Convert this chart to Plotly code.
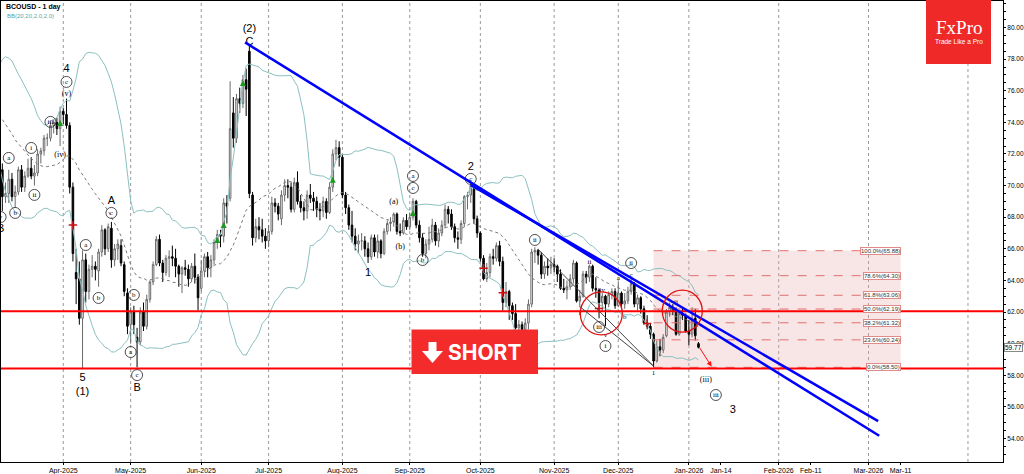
import pandas as pd
import plotly.graph_objects as go

# ------------------------------------------------------------------ data
TITLE = "BCOUSD - 1 day"
BB_NAME = "BB(20,20,2.0,2.0)"
BB_PERIOD, BB_DEV = 20, 2.0

# closes of the 20 sessions before the first visible bar (feed the BB(20))
pre_closes = [76.20, 75.60, 75.30, 75.70, 76.40, 77.00, 76.00, 75.60, 75.20, 75.00,
              74.90, 75.00, 75.20, 74.00, 74.20, 73.00, 72.50, 73.60, 73.00, 71.60]

first_session, last_session = "2025-03-04", "2026-01-07"
holidays = ["2025-04-18", "2025-12-25", "2026-01-01"]

# daily bars (open, high, low, close) per month
mar_2025 = [(71.6, 71.9, 69.8, 71.0), (71.0, 71.4, 68.4, 69.3), (69.3, 70.2, 68.9, 69.5), (69.5, 71.0, 68.9, 70.4),
            (70.4, 70.8, 69.0, 69.3), (69.3, 70.0, 68.6, 69.6), (69.6, 71.2, 69.4, 71.0), (71.0, 71.3, 69.6, 69.9),
            (69.9, 70.9, 69.6, 70.6), (70.6, 71.7, 70.5, 71.1), (71.1, 71.8, 70.4, 70.6), (70.6, 71.3, 70.0, 70.8),
            (70.8, 72.3, 70.6, 72.0), (72.0, 72.4, 71.4, 72.2), (72.2, 73.2, 71.9, 73.0), (73.0, 73.3, 72.5, 73.0),
            (73.0, 74.0, 72.8, 73.8), (73.8, 74.2, 73.3, 74.0), (74.0, 74.3, 73.2, 73.6), (73.6, 75.0, 72.5, 74.7)]
apr_2025 = [(74.7, 74.9, 73.9, 74.5), (74.5, 75.5, 73.6, 73.8), (73.8, 74.0, 69.5, 69.9), (69.9, 70.2, 65.2, 65.7),
            (64.5, 66.0, 62.5, 64.1), (64.1, 65.2, 61.2, 61.6), (61.6, 65.9, 58.4, 65.3), (65.3, 65.7, 62.6, 63.3),
            (63.3, 65.0, 62.8, 64.7), (64.7, 65.6, 64.2, 64.9), (64.9, 65.2, 64.0, 64.7), (64.6, 66.0, 63.6, 65.8),
            (65.8, 67.5, 65.5, 67.2), (67.2, 67.3, 65.6, 66.0), (66.0, 67.6, 65.8, 67.4), (67.3, 67.7, 64.8, 65.3),
            (65.3, 66.3, 64.9, 66.0), (66.0, 66.6, 65.3, 66.3), (66.2, 66.6, 64.9, 65.1), (65.0, 65.2, 63.0, 63.3),
            (63.2, 63.5, 60.6, 61.1)]
may_2025 = [(61.2, 62.3, 60.0, 62.0), (62.0, 62.4, 60.6, 61.2), (60.4, 61.0, 58.5, 60.1), (60.1, 62.3, 59.9, 62.0),
            (62.0, 62.6, 60.8, 61.1), (61.1, 63.1, 60.9, 62.8), (62.8, 64.0, 62.6, 63.9), (63.9, 65.2, 63.7, 65.0),
            (65.0, 66.8, 64.9, 66.6), (66.6, 66.9, 64.9, 65.1), (65.1, 65.3, 63.9, 64.5), (64.5, 65.6, 64.3, 65.4),
            (65.4, 65.9, 64.2, 65.5), (65.5, 66.2, 64.9, 65.4), (65.4, 66.0, 64.2, 64.9), (64.9, 65.0, 63.6, 64.4),
            (64.4, 64.9, 63.2, 64.8), (64.8, 65.3, 64.3, 64.7), (64.7, 65.0, 63.6, 64.1), (64.1, 65.1, 63.9, 64.9),
            (64.9, 65.7, 63.8, 64.2), (64.2, 64.4, 62.1, 62.9)]
jun_2025 = [(63.5, 65.3, 63.3, 64.6), (64.6, 65.7, 64.2, 65.5), (65.5, 65.8, 64.2, 64.8), (64.8, 65.6, 64.2, 65.3),
            (65.3, 66.6, 65.0, 66.4), (66.4, 67.2, 66.0, 66.9), (66.9, 67.2, 66.1, 66.8), (66.8, 69.2, 66.4, 68.9),
            (68.9, 69.4, 67.6, 68.7), (69.2, 76.6, 69.0, 73.6), (74.6, 75.6, 72.4, 73.0), (73.0, 75.8, 72.7, 75.5),
            (75.5, 76.2, 74.6, 75.2), (75.2, 77.0, 74.9, 76.7), (76.7, 77.4, 74.4, 76.1), (78.5, 78.9, 69.2, 69.5),
            (69.4, 69.6, 66.2, 66.7), (66.7, 67.9, 66.4, 67.4), (67.4, 68.0, 66.6, 67.2), (67.2, 67.9, 66.4, 66.8),
            (66.8, 67.3, 66.0, 66.5)]
jul_2025 = [(66.5, 67.5, 66.1, 67.1), (67.1, 69.3, 66.9, 68.9), (68.9, 69.2, 68.3, 68.7), (68.7, 68.9, 67.8, 68.2),
            (67.9, 69.7, 67.5, 69.4), (69.4, 70.4, 69.0, 70.0), (70.0, 70.4, 69.2, 69.9), (69.9, 70.2, 68.3, 68.5),
            (68.5, 70.5, 68.3, 70.2), (70.2, 70.9, 68.8, 69.0), (69.0, 69.4, 68.3, 68.6), (68.6, 69.0, 67.8, 68.4),
            (68.4, 69.7, 67.9, 69.4), (69.4, 70.1, 68.9, 69.2), (69.2, 69.6, 68.4, 69.0), (69.0, 69.3, 68.0, 68.5),
            (68.5, 68.9, 67.8, 68.4), (68.4, 69.3, 68.0, 69.0), (69.0, 69.2, 67.9, 68.3), (68.3, 70.2, 68.2, 69.9),
            (69.9, 72.3, 69.6, 72.0), (72.0, 72.9, 71.6, 72.4), (72.4, 72.8, 71.2, 71.8)]
aug_2025 = [(71.8, 72.0, 69.2, 69.4), (69.4, 69.6, 68.2, 68.6), (68.6, 68.8, 67.2, 67.5), (67.5, 68.4, 66.4, 66.8),
            (66.8, 67.3, 65.9, 66.3), (66.3, 66.9, 65.7, 66.5), (66.5, 67.0, 65.9, 66.5), (66.5, 66.8, 65.5, 66.0),
            (66.0, 66.4, 65.1, 65.5), (65.5, 66.9, 65.3, 66.7), (66.7, 66.9, 65.5, 65.8), (65.8, 66.9, 65.4, 66.5),
            (66.5, 66.6, 65.4, 65.7), (65.7, 67.3, 65.6, 67.1), (67.1, 67.8, 66.9, 67.6), (67.6, 68.0, 67.1, 67.7),
            (67.7, 68.3, 67.4, 68.2), (68.2, 68.3, 66.9, 67.1), (67.1, 67.6, 66.8, 67.0), (67.0, 68.0, 66.9, 67.8),
            (67.8, 68.2, 67.2, 67.4)]
sep_2025 = [(67.4, 68.3, 67.2, 68.0), (68.0, 69.2, 67.8, 69.0), (69.0, 69.1, 67.3, 67.5), (67.5, 67.8, 66.4, 66.7),
            (66.7, 67.0, 65.5, 65.7), (65.7, 66.6, 65.4, 66.3), (66.3, 67.4, 65.9, 66.6), (66.6, 67.9, 66.4, 67.5),
            (67.5, 67.7, 66.2, 66.5), (66.5, 67.3, 66.1, 67.0), (67.0, 67.8, 66.8, 67.5), (67.5, 68.8, 67.3, 68.5),
            (68.5, 68.7, 67.6, 68.2), (68.2, 68.5, 67.2, 67.4), (67.4, 67.6, 66.4, 66.7), (66.7, 67.1, 66.0, 66.6),
            (66.6, 67.8, 66.3, 67.6), (67.6, 69.4, 67.4, 69.3), (69.3, 69.6, 68.5, 69.4), (69.4, 70.3, 68.9, 70.0),
            (69.8, 69.9, 67.6, 67.9), (67.9, 68.1, 66.7, 67.0)]
oct_2025 = [(67.0, 67.1, 65.2, 65.4), (65.4, 65.6, 64.0, 64.1), (64.1, 65.1, 63.9, 64.5), (64.5, 65.7, 64.2, 65.5),
            (65.5, 66.0, 65.0, 65.4), (65.4, 66.4, 65.2, 66.2), (66.2, 66.5, 64.9, 65.2), (65.2, 65.5, 62.1, 62.6),
            (62.6, 63.9, 62.3, 63.3), (63.3, 63.4, 61.5, 62.4), (62.4, 62.6, 61.5, 61.9), (61.9, 62.5, 60.9, 61.0),
            (61.0, 61.5, 60.2, 61.2), (61.2, 61.4, 60.0, 60.9), (60.9, 61.6, 60.3, 61.3), (61.3, 62.8, 60.9, 62.5),
            (62.5, 66.0, 62.3, 65.8), (65.8, 66.1, 65.1, 65.9), (65.9, 66.0, 65.0, 65.6), (65.6, 65.8, 64.1, 64.4),
            (64.4, 65.2, 64.1, 64.9), (64.9, 65.4, 64.3, 64.8), (64.8, 65.5, 64.4, 65.0)]
nov_2025 = [(65.0, 65.4, 64.5, 64.9), (64.9, 65.0, 63.9, 64.4), (64.4, 64.7, 63.4, 63.5), (63.5, 64.1, 63.2, 63.4),
            (63.4, 64.0, 62.8, 63.6), (63.6, 64.4, 63.4, 64.1), (64.1, 65.3, 63.8, 65.1), (65.1, 65.2, 62.6, 62.7),
            (62.7, 63.4, 62.3, 63.0), (63.0, 64.6, 62.9, 64.4), (64.4, 64.6, 63.8, 64.2), (64.2, 65.0, 63.9, 64.9),
            (64.9, 65.0, 63.3, 63.5), (63.5, 64.2, 62.9, 63.4), (63.4, 63.5, 61.6, 62.6), (62.6, 63.2, 62.0, 63.0),
            (63.0, 63.1, 61.1, 62.5), (62.5, 63.3, 62.3, 63.1), (63.1, 63.5, 62.8, 63.3), (63.3, 63.5, 62.2, 62.4)]
dec_2025 = [(62.4, 63.9, 62.3, 63.2), (63.2, 63.3, 62.2, 62.5), (62.5, 63.2, 62.2, 62.7), (62.7, 63.6, 62.5, 63.3),
            (63.3, 64.1, 63.1, 63.8), (63.8, 63.9, 62.3, 62.5), (62.5, 63.1, 62.1, 62.9), (62.9, 63.0, 61.9, 62.2),
            (62.2, 62.4, 61.2, 61.3), (61.3, 61.8, 60.9, 61.1), (61.1, 61.3, 60.3, 60.6), (60.6, 60.7, 58.5, 58.9),
            (58.9, 60.2, 58.8, 59.8), (59.8, 60.3, 59.2, 59.6), (59.6, 60.6, 59.4, 60.4), (60.5, 62.2, 60.4, 62.0),
            (62.0, 62.6, 61.7, 62.3), (62.3, 62.5, 61.8, 62.1), (62.1, 62.3, 60.5, 60.6), (60.6, 62.1, 60.5, 61.9),
            (61.9, 62.2, 61.5, 61.8), (61.8, 61.9, 60.7, 60.8)]
jan_2026 = [(60.8, 61.5, 59.9, 60.6), (60.6, 62.3, 60.4, 61.6), (61.6, 62.2, 60.2, 60.5), (60.0, 60.1, 59.7, 59.77)]

months = [mar_2025, apr_2025, may_2025, jun_2025, jul_2025, aug_2025,
          sep_2025, oct_2025, nov_2025, dec_2025, jan_2026]

# axis labels
tick_dates = ["2025-04-01", "2025-05-01", "2025-06-02", "2025-07-01", "2025-08-01", "2025-09-01",
              "2025-10-01", "2025-11-03", "2025-12-01", "2026-01-02", "2026-01-14", "2026-02-01",
              "2026-02-11", "2026-03-01", "2026-03-11"]
tick_labels = ["Apr-2025", "May-2025", "Jun-2025", "Jul-2025", "Aug-2025", "Sep-2025",
               "Oct-2025", "Nov-2025", "Dec-2025", "Jan-2026", "Jan-14", "Feb-2026",
               "Feb-11", "Mar-2026", "Mar-11"]
grid_dates = ["2025-04-01", "2025-05-01", "2025-06-02", "2025-07-01", "2025-08-01", "2025-09-01",
              "2025-10-01", "2025-11-03", "2025-12-01", "2026-01-02", "2026-02-01", "2026-03-01",
              "2026-04-01"]
price_ticks = [54, 56, 58, 60, 62, 64, 66, 68, 70, 72, 74, 76, 78, 80]
x_window = ["2025-03-05 02:00", "2026-04-12 10:00"]
y_window = [52.51, 81.68]

last_price = 59.77
support_resistance = [62.05, 58.43]

fib_pct = [100.0, 78.6, 61.8, 50.0, 38.2, 23.6, 0.0]
fib_val = [65.88, 64.30, 63.06, 62.19, 61.32, 60.24, 58.50]
fib_from, fib_to = "2025-12-16 12:00", "2026-03-11 12:00"

# trend lines (start date, start price, end date, end price)
trend_lines = [("2025-06-20 04:00", 79.06, "2026-03-04 20:00", 54.17),
               ("2025-09-26 12:00", 70.04, "2026-03-04 12:00", 55.10)]
channel_lines = [("2025-10-27 12:00", 65.97, "2025-12-16 12:00", 58.58),
                 ("2025-11-13 12:00", 62.34, "2025-12-16 12:00", 58.58)]
focus_circles = [("2025-11-13 15:36", 63.27, "2025-12-02 17:45", 60.55),
                 ("2025-12-19 05:00", 63.39, "2026-01-08 16:30", 60.73)]
arrow_from = ("2026-01-07 12:00", 59.85)
arrow_to = ("2026-01-11 14:00", 58.55)

# Elliott wave labels
big_text = ["B", "4", "5", "(1)", "A", "B", "(2)", "C", "1", "2", "3"]
big_x = ["2025-03-04 23:00", "2025-04-02", "2025-04-09", "2025-04-09", "2025-04-23", "2025-05-05",
         "2025-06-23", "2025-06-23", "2025-08-13", "2025-09-26", "2026-01-18 05:00"]
big_y = [67.25, 77.38, 57.82, 56.94, 69.03, 57.19, 79.91, 79.09, 64.47, 71.18, 55.80]

circ_text = ["v", "a", "b", "i", "ii", "iii", "c", "a", "b", "c", "b", "a", "c",
             "a", "c", "b", "c", "ii", "iii", "i", "ii", "iii"]
circ_x = ["2025-03-04 23:00", "2025-03-07", "2025-03-11", "2025-03-18", "2025-03-19", "2025-03-26",
          "2025-04-02", "2025-04-10", "2025-04-16", "2025-04-23", "2025-05-02", "2025-05-01",
          "2025-05-05", "2025-09-02", "2025-09-02", "2025-09-05", "2025-09-26", "2025-10-24",
          "2025-11-21", "2025-11-25", "2025-12-05", "2026-01-12 22:00"]
circ_y = [68.01, 71.75, 68.27, 72.38, 69.41, 74.03, 76.56, 66.24, 62.89, 68.27, 63.08, 59.47,
          58.01, 70.61, 69.85, 65.29, 70.42, 66.56, 61.05, 59.85, 65.10, 56.75]

paren_text = ["(iv)", "(v)", "(a)", "(b)", "(iii)"]
paren_x = ["2025-03-31", "2025-04-02", "2025-08-25", "2025-08-27", "2026-01-09 19:00"]
paren_y = [71.94, 75.80, 68.96, 66.11, 57.70]

small_text = ["ii", "iv", "i", "v", "a", "b", "c", "1", "ii"]
small_x = ["2025-11-18", "2025-11-24", "2025-11-13", "2025-11-25", "2025-12-01", "2025-12-03",
           "2025-12-05", "2025-12-16", "2025-12-26"]
small_y = [65.16, 63.39, 61.94, 60.54, 64.15, 61.68, 64.34, 58.14, 62.63]

up_sig_x = ["2025-03-31", "2025-06-09", "2025-06-11", "2025-06-19", "2025-07-29", "2025-09-02"]
up_sig_y = [74.15, 66.75, 67.70, 76.68, 70.56, 68.46]
dn_sig_x = ["2025-04-04", "2025-10-02", "2025-10-10", "2025-11-21", "2025-12-12"]
dn_sig_y = [67.50, 64.77, 63.22, 62.23, 61.28]

# ------------------------------------------------------------------ build
bars = [b for m in months for b in m]
opens = [b[0] for b in bars]
highs = [b[1] for b in bars]
lows = [b[2] for b in bars]
closes = [b[3] for b in bars]

sessions = pd.bdate_range(first_session, last_session)
sessions = sessions[~sessions.isin(pd.to_datetime(holidays))]
assert len(sessions) == len(bars), (len(sessions), len(bars))
bar_x = [d.strftime("%Y-%m-%d 12:00") for d in sessions]

series = pd.Series(pre_closes + closes)
mid = series.rolling(BB_PERIOD).mean()
sd = series.rolling(BB_PERIOD).std(ddof=0)
n_pre = len(pre_closes)
bb_mid = mid.iloc[n_pre:].tolist()
bb_up = (mid + BB_DEV * sd).iloc[n_pre:].tolist()
bb_lo = (mid - BB_DEV * sd).iloc[n_pre:].tolist()

# non-trading days of the history are removed from the time axis
calendar = pd.date_range("2025-02-01", "2026-01-04")
breaks = [d.strftime("%Y-%m-%d") for d in calendar if d.weekday() >= 5] + holidays


def noon(d):
    return d if len(d) > 10 else d + " 12:00"


fig = go.Figure()
band_color = "#8cc0c0"
fig.add_trace(go.Scatter(x=bar_x, y=bb_up, mode="lines", line=dict(color=band_color, width=1),
                         hoverinfo="skip", showlegend=False))
fig.add_trace(go.Scatter(x=bar_x, y=bb_lo, mode="lines", line=dict(color=band_color, width=1),
                         hoverinfo="skip", showlegend=False))
fig.add_trace(go.Scatter(x=bar_x, y=bb_mid, mode="lines", line=dict(color="#7a7a7a", width=1, dash="dot"),
                         hoverinfo="skip", showlegend=False))
fig.add_trace(go.Candlestick(
    x=bar_x, open=opens, high=highs, low=lows, close=closes,
    increasing=dict(line=dict(color="#6a6a6a", width=1), fillcolor="#ffffff"),
    decreasing=dict(line=dict(color="#000000", width=1), fillcolor="#000000"),
    whiskerwidth=0, showlegend=False, hoverinfo="skip"))

# signal markers
fig.add_trace(go.Scatter(x=[noon(d) for d in up_sig_x], y=up_sig_y, mode="markers",
                         marker=dict(symbol="arrow-up", size=6, color="#1e9a1e"),
                         hoverinfo="skip", showlegend=False))
fig.add_trace(go.Scatter(x=[noon(d) for d in dn_sig_x], y=dn_sig_y, mode="markers",
                         marker=dict(symbol="cross-thin", size=6, line=dict(color="#d01010", width=1.5)),
                         hoverinfo="skip", showlegend=False))

# wave labels
fig.add_trace(go.Scatter(x=[noon(d) for d in circ_x], y=circ_y, mode="markers+text", text=circ_text,
                         textposition="middle center",
                         textfont=dict(family="Liberation Serif", size=7, color="#000"),
                         marker=dict(symbol="circle-open", size=11, color="#222", line=dict(width=0.8)),
                         hoverinfo="skip", showlegend=False))
fig.add_trace(go.Scatter(x=[noon(d) for d in paren_x], y=paren_y, mode="text", text=paren_text,
                         textposition="middle center",
                         textfont=dict(family="Liberation Serif", size=8, color="#000"),
                         hoverinfo="skip", showlegend=False))
fig.add_trace(go.Scatter(x=[noon(d) for d in small_x], y=small_y, mode="text", text=small_text,
                         textposition="middle center",
                         textfont=dict(family="Liberation Serif", size=7, color="#000"),
                         hoverinfo="skip", showlegend=False))
fig.add_trace(go.Scatter(x=[noon(d) for d in big_x], y=big_y, mode="text", text=big_text,
                         textposition="middle center",
                         textfont=dict(family="Liberation Sans", size=11, color="#000"),
                         hoverinfo="skip", showlegend=False))

shapes = []
for g in grid_dates:
    shapes.append(dict(type="line", xref="x", yref="paper", x0=noon(g), x1=noon(g), y0=0, y1=1,
                       line=dict(color="#9a9a9a", width=1, dash="dot"), layer="below"))
# fibonacci zone
shapes.append(dict(type="rect", xref="x", yref="y", x0=fib_from, x1=fib_to, y0=min(fib_val), y1=max(fib_val),
                   fillcolor="rgba(232,170,170,0.30)", line=dict(width=0), layer="below"))
for v in fib_val:
    shapes.append(dict(type="line", xref="x", yref="y", x0=fib_from, x1=fib_to, y0=v, y1=v,
                       line=dict(color="#e07070", width=1, dash="dash")))
for lvl in support_resistance:
    shapes.append(dict(type="line", xref="paper", yref="y", x0=0, x1=1, y0=lvl, y1=lvl,
                       line=dict(color="#ff0000", width=2)))
for (xa, ya, xb, yb) in channel_lines:
    shapes.append(dict(type="line", xref="x", yref="y", x0=xa, y0=ya, x1=xb, y1=yb,
                       line=dict(color="#444444", width=1)))
for (xa, ya, xb, yb) in trend_lines:
    shapes.append(dict(type="line", xref="x", yref="y", x0=xa, y0=ya, x1=xb, y1=yb,
                       line=dict(color="#0000ff", width=2.5)))
for (xa, ya, xb, yb) in focus_circles:
    shapes.append(dict(type="circle", xref="x", yref="y", x0=xa, y0=ya, x1=xb, y1=yb,
                       line=dict(color="#e01010", width=1.3)))

# pixel helpers for the overlay badges (plot area 1..1003 x 1..462)
PL, PR, PT, PB = 1, 1003, 1, 462


def px(x):
    return (x - PL) / (PR - PL)


def py(y):
    return (PB - y) / (PB - PT)


# SHORT badge
shapes.append(dict(type="rect", xref="paper", yref="paper", x0=px(411.5), x1=px(538), y0=py(374), y1=py(329.5),
                   fillcolor="#f42b2b", line=dict(width=0)))
arrow_path = ("M {a},{b} L {c},{b} L {c},{d} L {e},{d} L {f},{g} L {h},{d} L {a},{d} Z"
              .format(a=px(428.5), b=py(342), c=px(436.5), d=py(351), e=px(443), f=px(432.5),
                      g=py(363), h=px(422)))
shapes.append(dict(type="path", xref="paper", yref="paper", path=arrow_path,
                   fillcolor="#ffffff", line=dict(width=0)))
# FxPro badge
shapes.append(dict(type="rect", xref="paper", yref="paper", x0=px(926), x1=px(991), y0=py(64), y1=1.01,
                   fillcolor="#ef2828", line=dict(width=0)))

annotations = [
    dict(xref="paper", yref="paper", x=px(4), y=py(7), xanchor="left", yanchor="middle", showarrow=False,
         text="<b>" + TITLE + "</b>", font=dict(family="Liberation Sans", size=7, color="#000")),
    dict(xref="paper", yref="paper", x=px(5), y=py(16), xanchor="left", yanchor="middle", showarrow=False,
         text=BB_NAME, font=dict(family="Liberation Sans", size=6, color="#5aa5a5")),
    dict(xref="paper", yref="paper", x=px(484), y=py(352), xanchor="center", yanchor="middle", showarrow=False,
         text="<b>SHORT</b>", font=dict(family="Inter", size=21, color="#ffffff")),
    dict(xref="paper", yref="paper", x=px(958.5), y=py(27), xanchor="center", yanchor="middle", showarrow=False,
         text="FxPro", font=dict(family="Liberation Serif", size=19, color="#ffffff")),
    dict(xref="paper", yref="paper", x=px(959), y=py(41), xanchor="center", yanchor="middle", showarrow=False,
         text="Trade Like a Pro", font=dict(family="Liberation Sans", size=6.5, color="#ffffff")),
    dict(xref="paper", yref="y", x=1, y=last_price, xanchor="left", yanchor="middle", showarrow=False,
         text="%.2f" % last_price, font=dict(family="Liberation Sans", size=6.5, color="#000"),
         bgcolor="#ffffff", bordercolor="#888888", borderwidth=1, borderpad=0, xshift=1),
    dict(xref="x", yref="y", axref="x", ayref="y", x=arrow_to[0], y=arrow_to[1],
         ax=arrow_from[0], ay=arrow_from[1], showarrow=True, arrowhead=2, arrowsize=1,
         arrowwidth=1, arrowcolor="#ff1010", text=""),
]
for p, v in zip(fib_pct, fib_val):
    annotations.append(dict(xref="x", yref="y", x=fib_to, y=v, xanchor="right", yanchor="middle",
                            showarrow=False, text="%.1f%%(%.2f)" % (p, v),
                            font=dict(family="Liberation Sans", size=6, color="#333"),
                            bgcolor="#ffffff", bordercolor="#e08a8a", borderwidth=1, borderpad=0))

fig.update_layout(
    width=1024, height=474, autosize=False,
    margin=dict(l=PL, r=1024 - PR, t=PT, b=474 - PB),
    paper_bgcolor="#ffffff", plot_bgcolor="#ffffff",
    font=dict(family="Liberation Sans", size=7, color="#000"),
    showlegend=False, hovermode=False,
    shapes=shapes, annotations=annotations,
    xaxis=dict(type="date", range=x_window, rangebreaks=[dict(values=breaks)],
               tickmode="array", tickvals=[noon(d) for d in tick_dates], ticktext=tick_labels,
               ticks="outside", ticklen=2, tickcolor="#000", showgrid=False, zeroline=False,
               showline=True, linecolor="#000", linewidth=1, mirror=True,
               tickfont=dict(family="Liberation Sans", size=7, color="#000"),
               rangeslider=dict(visible=False), automargin=False, fixedrange=True),
    yaxis=dict(side="right", range=y_window, tickmode="array", tickvals=price_ticks,
               ticktext=["%.2f" % t for t in price_ticks],
               ticks="outside", ticklen=2, tickcolor="#000", showgrid=False, zeroline=False,
               showline=True, linecolor="#000", linewidth=1, mirror=True,
               minor=dict(dtick=0.5, tick0=0, ticks="outside", ticklen=2, tickcolor="#000"),
               tickfont=dict(family="Liberation Sans", size=6.5, color="#000"),
               automargin=False, fixedrange=True),
)

fig.write_html("out.html", config={"displayModeBar": False},
               post_script="document.body.style.margin='0';document.body.style.padding='0';"
                           "document.body.style.overflow='hidden';")
